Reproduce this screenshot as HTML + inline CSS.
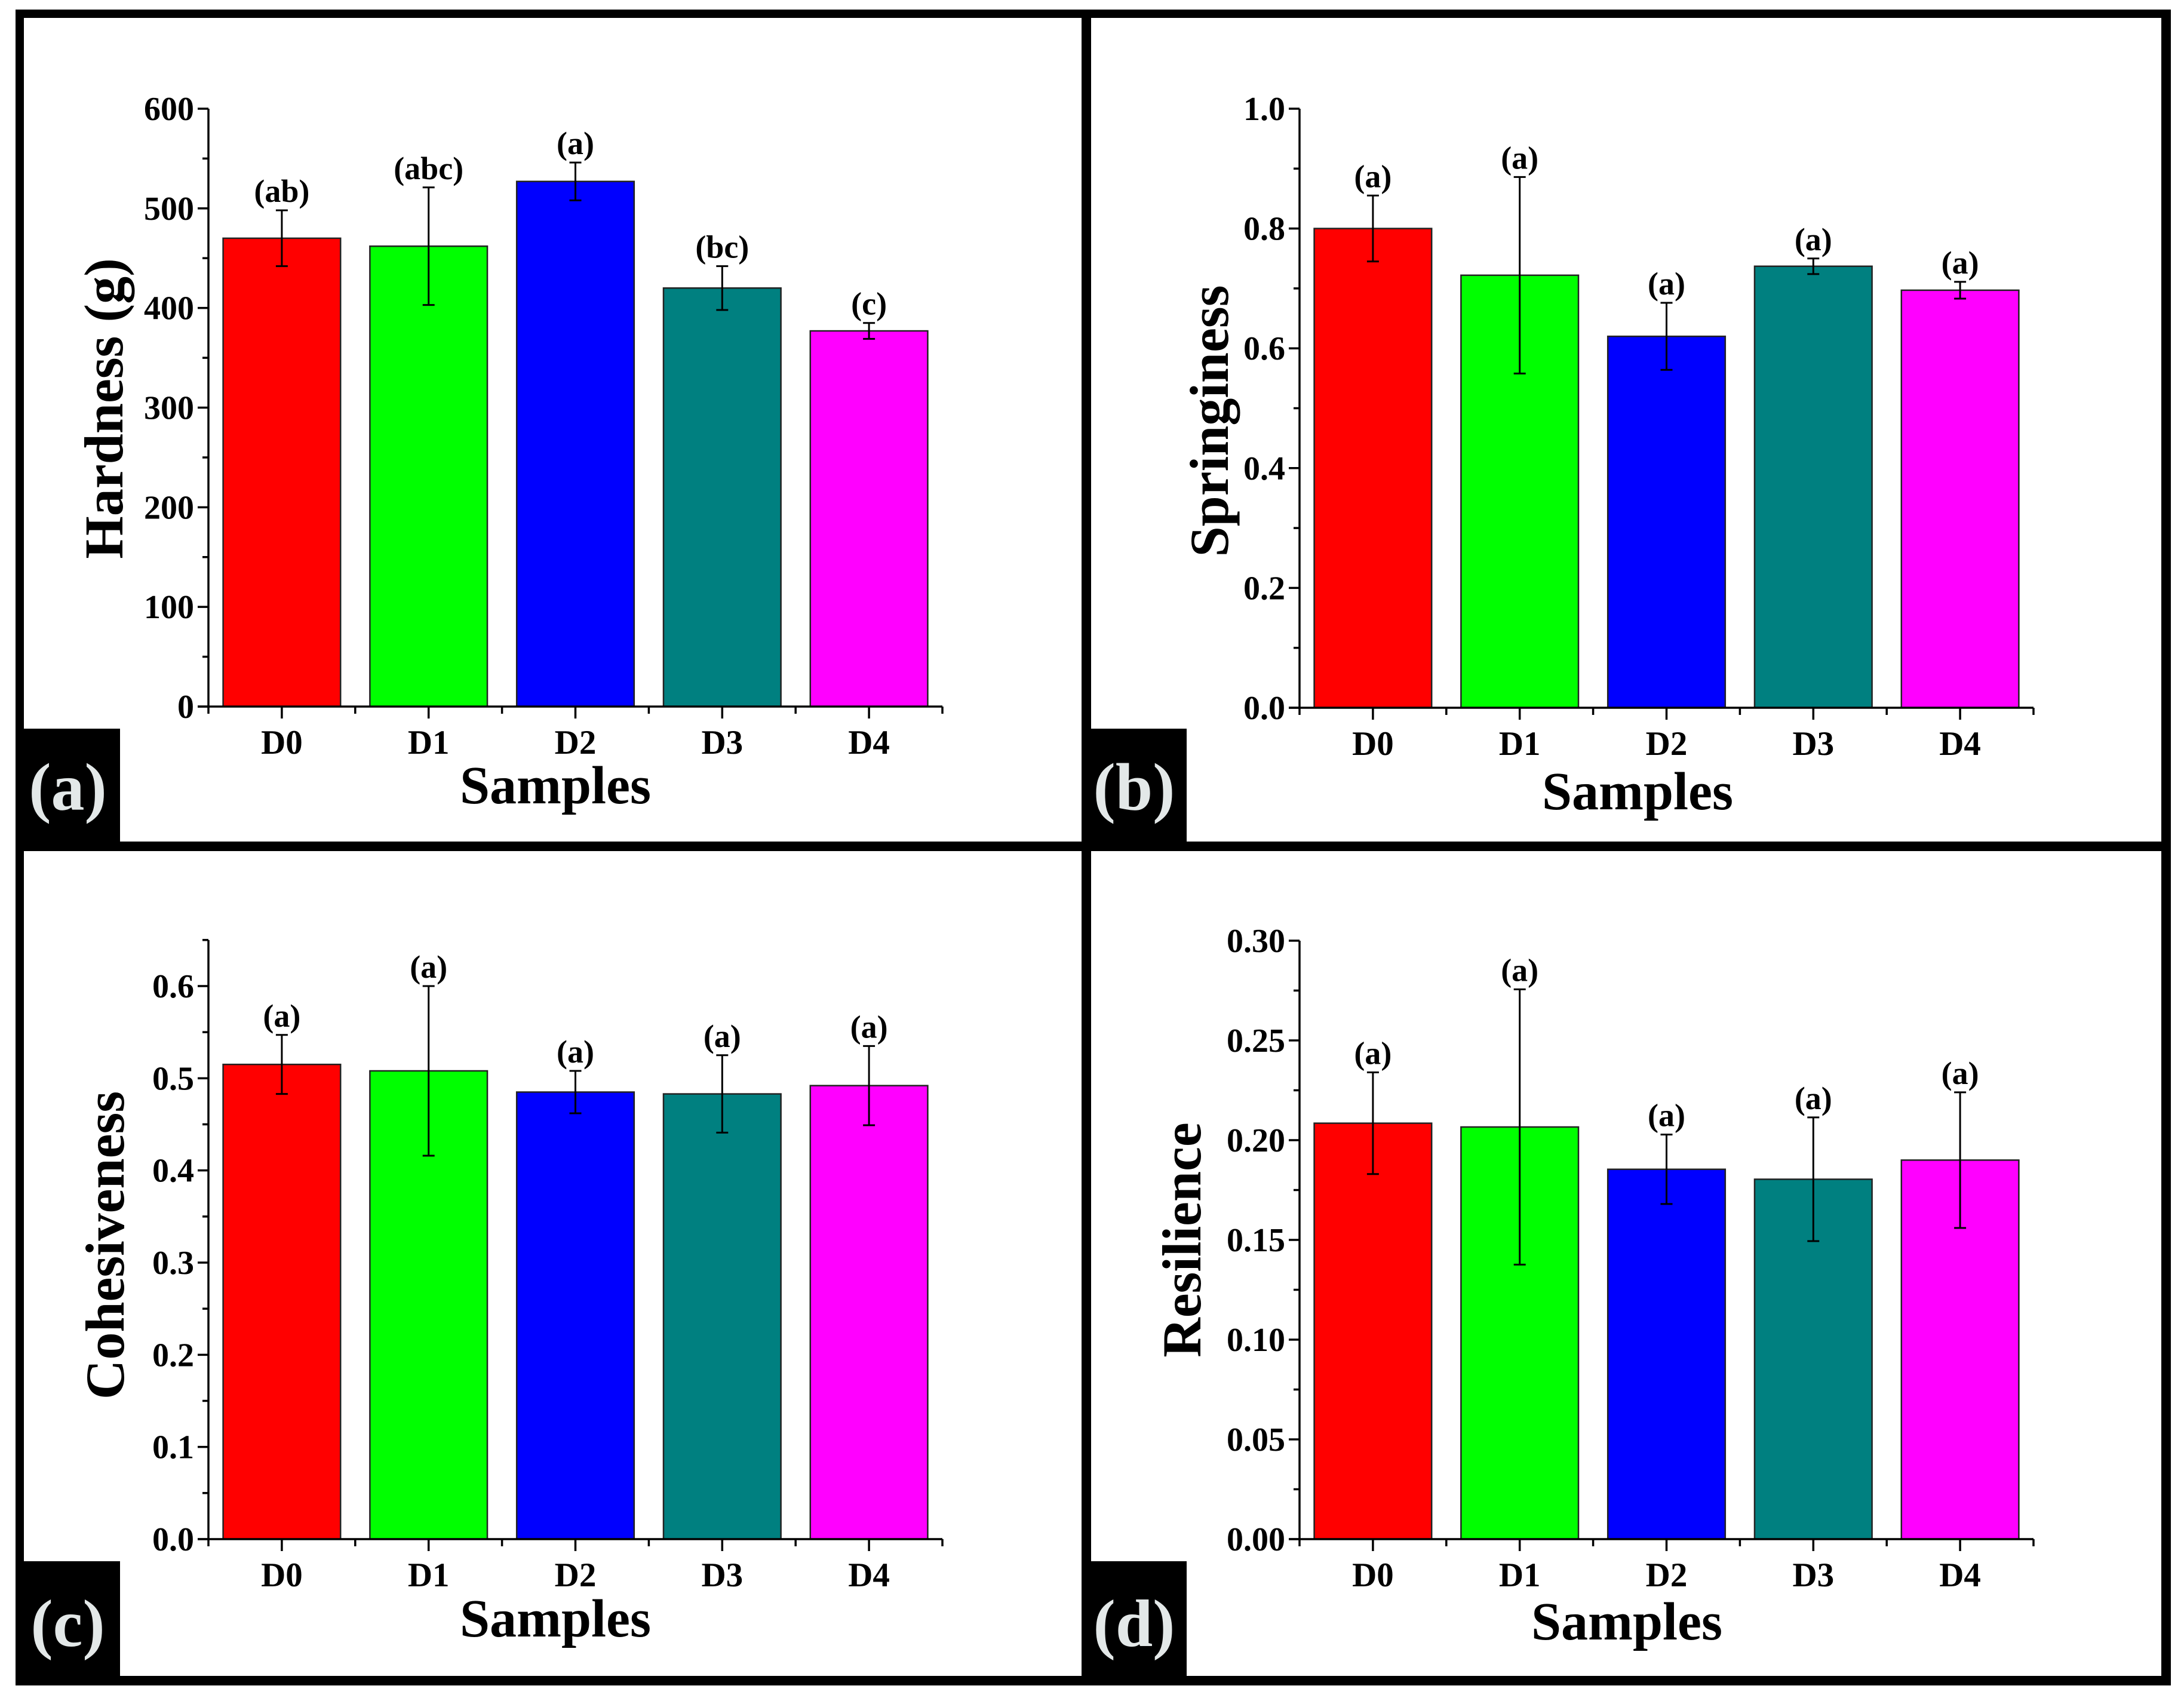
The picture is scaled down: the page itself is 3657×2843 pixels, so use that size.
<!DOCTYPE html>
<html><head><meta charset="utf-8">
<style>
html,body{margin:0;padding:0;background:#fff;}
svg{display:block;}
text{font-family:"Liberation Serif",serif;font-weight:bold;fill:#000;}
</style></head>
<body>
<svg id="fig" width="3657" height="2843" viewBox="0 0 3657 2843" xmlns="http://www.w3.org/2000/svg">
<rect x="0" y="0" width="3657" height="2843" fill="#fff"/>
</svg>
<script>
// ---- data ----
const categories = ["D0","D1","D2","D3","D4"];
const barColors = ["#ff0000","#00ff00","#0000ff","#008080","#ff00ff"];
const hardnessValues = [470, 462, 527, 420, 377];
const hardnessErrors = [28, 59, 19, 22, 8];
const hardnessLetters = ["(ab)","(abc)","(a)","(bc)","(c)"];
const hardnessTicks = ["0","100","200","300","400","500","600"];
const springValues = [0.800, 0.722, 0.620, 0.737, 0.697];
const springErrors = [0.055, 0.164, 0.056, 0.013, 0.014];
const springLetters = ["(a)","(a)","(a)","(a)","(a)"];
const springTicks = ["0.0","0.2","0.4","0.6","0.8","1.0"];
const cohesValues = [0.515, 0.508, 0.485, 0.483, 0.492];
const cohesErrors = [0.032, 0.092, 0.023, 0.042, 0.043];
const cohesLetters = ["(a)","(a)","(a)","(a)","(a)"];
const cohesTicks = ["0.0","0.1","0.2","0.3","0.4","0.5","0.6"];
const resilValues = [0.2085, 0.2066, 0.1854, 0.1804, 0.1900];
const resilErrors = [0.0255, 0.069, 0.0174, 0.031, 0.034];
const resilLetters = ["(a)","(a)","(a)","(a)","(a)"];
const resilTicks = ["0.00","0.05","0.10","0.15","0.20","0.25","0.30"];

const NS = "http://www.w3.org/2000/svg";
const svg = document.getElementById("fig");
function el(tag, attrs, parent, txt){
  const e = document.createElementNS(NS, tag);
  for (const k in attrs) e.setAttribute(k, attrs[k]);
  if (txt !== undefined) e.textContent = txt;
  (parent||svg).appendChild(e);
  return e;
}

function panel(cfg){
  const g = el("g", {});
  
  
  const x0 = cfg.x0, x1 = cfg.x0 + 1229, yB = cfg.yBottom, yT = cfg.yTop;
  const yMax = cfg.yMax;
  const yScale = v => yB - (v / yMax) * (yB - yT);
  const step = (x1 - x0) / categories.length;
  const xCenter = i => x0 + step * (i + 0.5);
  const bw = step * 0.8;
  categories.forEach((c, i) => {
    const v = cfg.values[i], e = cfg.errors[i];
    const r = el("rect", {x: xCenter(i) - bw/2, y: yScale(v), width: bw, height: yB - yScale(v), fill: barColors[i], stroke: "#222", "stroke-width": 2.5}, g);
    
    
    const eg = el("g", {stroke: "#000", "stroke-width": 3}, g);
    
    
    const ytop = yScale(v + e), ybot = yScale(v - e), xc = xCenter(i);
    el("line", {x1: xc, x2: xc, y1: ytop, y2: ybot}, eg);
    el("line", {x1: xc - 10, x2: xc + 10, y1: ytop, y2: ytop}, eg);
    el("line", {x1: xc - 10, x2: xc + 10, y1: ybot, y2: ybot}, eg);
    const t = el("text", {x: xc, y: ytop - 14, "text-anchor": "middle", "font-size": 54}, g, cfg.letters[i]);
    
    
  });
  const ax = el("g", {stroke: "#000", "stroke-width": 3.5, fill: "none"}, g);
  
  
  el("line", {x1: x0, x2: x0, y1: cfg.axisTop, y2: yB + 2}, ax);
  el("line", {x1: x0 - 18, x2: x1, y1: yB, y2: yB}, ax);
  const nT = cfg.ticks.length;
  for (let k = 0; k < nT; k++){
    const v = k * yMax / (nT - 1);
    const y = yScale(v);
    el("line", {x1: x0 - 18, x2: x0, y1: y, y2: y}, ax);
    const tl = el("text", {x: x0 - 24, y: y + 19, "text-anchor": "end", "font-size": 56}, g, cfg.ticks[k]);
    
    
  }
  const minorStep = yMax / (nT - 1) / 2;
  for (let v = minorStep; yScale(v) >= cfg.axisTop - 1; v += 2 * minorStep){
    const y = yScale(v);
    el("line", {x1: x0 - 10, x2: x0, y1: y, y2: y}, ax);
  }
  for (let i = 0; i <= categories.length; i++){
    const x = x0 + step * i;
    el("line", {x1: x, x2: x, y1: yB, y2: yB + 12}, ax);
  }
  categories.forEach((c, i) => {
    el("line", {x1: xCenter(i), x2: xCenter(i), y1: yB, y2: yB + 20}, ax);
    const tl = el("text", {x: xCenter(i), y: yB + 79, "text-anchor": "middle", "font-size": 57}, g, c);
    
    
  });
  const xt = el("text", {x: cfg.xTitleX, y: cfg.xTitleY, "text-anchor": "middle", "font-size": 90}, g, "Samples");
  
  
  const yt = el("text", {x: 0, y: 0, "text-anchor": "middle", "font-size": 92, transform: "translate(" + cfg.yTitleX + "," + cfg.yTitleY + ") rotate(-90)"}, g, cfg.yTitle);
  
  
  const lb = el("rect", {x: cfg.boxX, y: cfg.boxY, width: cfg.boxW, height: cfg.boxH, fill: "#000"}, g);
  
  
  const lt = el("text", {x: cfg.boxX + cfg.boxW/2, y: cfg.boxY + cfg.boxH/2 + 38, "text-anchor": "middle", "font-size": 112, style: "fill:#e3e8e8"}, g, cfg.label);
  
  
}

panel({name: "panel-a-hardness", x0: 349, yBottom: 1183, yTop: 182, yMax: 600, axisTop: 182,
  values: hardnessValues, errors: hardnessErrors, letters: hardnessLetters, ticks: hardnessTicks,
  yTitle: "Hardness (g)", yTitleX: 205, yTitleY: 684, xTitleX: 930, xTitleY: 1345,
  boxX: 26, boxY: 1220, boxW: 175, boxH: 195, label: "(a)"});
panel({name: "panel-b-springiness", x0: 2176, yBottom: 1185, yTop: 182, yMax: 1.0, axisTop: 182,
  values: springValues, errors: springErrors, letters: springLetters, ticks: springTicks,
  yTitle: "Springiness", yTitleX: 2056, yTitleY: 705, xTitleX: 2742, xTitleY: 1355,
  boxX: 1811, boxY: 1220, boxW: 176, boxH: 195, label: "(b)"});
panel({name: "panel-c-cohesiveness", x0: 349, yBottom: 2577, yTop: 1651, yMax: 0.6, axisTop: 1574,
  values: cohesValues, errors: cohesErrors, letters: cohesLetters, ticks: cohesTicks,
  yTitle: "Cohesiveness", yTitleX: 207, yTitleY: 2085, xTitleX: 930, xTitleY: 2740,
  boxX: 26, boxY: 2614, boxW: 175, boxH: 208, label: "(c)"});
panel({name: "panel-d-resilience", x0: 2176, yBottom: 2577, yTop: 1575, yMax: 0.30, axisTop: 1575,
  values: resilValues, errors: resilErrors, letters: resilLetters, ticks: resilTicks,
  yTitle: "Resilience", yTitleX: 2010, yTitleY: 2076, xTitleX: 2724, xTitleY: 2745,
  boxX: 1811, boxY: 2614, boxW: 176, boxH: 208, label: "(d)"});

const fr = el("g", {fill: "#000"});


el("rect", {x: 26, y: 16, width: 3609, height: 14}, fr);
el("rect", {x: 26, y: 16, width: 14, height: 2806}, fr);
el("rect", {x: 3619, y: 16, width: 16, height: 2806}, fr);
el("rect", {x: 26, y: 2806, width: 3609, height: 16}, fr);
el("rect", {x: 26, y: 1409, width: 3609, height: 16}, fr);
el("rect", {x: 1811, y: 16, width: 16, height: 2806}, fr);
</script>
</body></html>
